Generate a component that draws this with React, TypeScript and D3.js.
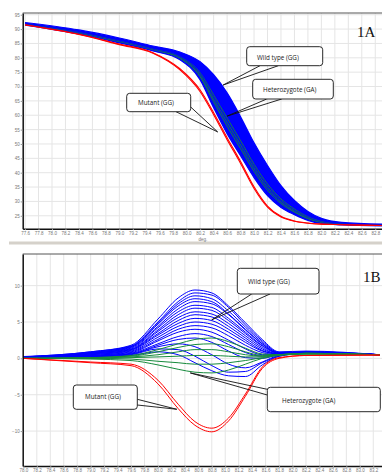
import React, { useEffect, useRef } from 'react';
import * as d3 from 'd3';

// ---------- 1A: melting curves (fluorescence vs deg.) ----------
const tempsA = [77.6, 78.4, 79.0, 79.5, 79.9, 80.2, 80.4, 80.6, 80.8, 81.0, 81.2, 81.4, 81.6, 81.8, 82.0, 82.3, 82.9];
// envelope of the wild type bundle (lowest / highest curve)
const wildLowA = [91.4, 88.3, 85.2, 82.4, 79.3, 72.3, 62.6, 53.6, 45.9, 38.3, 32.0, 27.9, 25.4, 23.4, 22.3, 21.8, 21.5];
const wildHighA = [92.3, 89.7, 86.9, 84.1, 82.0, 78.6, 74.1, 67.8, 59.5, 50.4, 42.5, 35.5, 30.3, 26.5, 24.1, 22.7, 22.1];
const wildMidA = [
  [91.7, 88.8, 85.8, 83.0, 80.2, 74.4, 66.4, 58.3, 50.4, 42.3, 35.5, 30.4, 27.0, 24.4, 22.9, 22.1, 21.7],
  [92.0, 89.2, 86.3, 83.5, 81.1, 76.5, 70.3, 63.1, 55.0, 46.4, 39.0, 33.0, 28.7, 25.5, 23.5, 22.4, 21.9],
];
const hetA = [
  [91.6, 88.6, 85.5, 82.7, 79.8, 73.4, 64.7, 56.2, 48.4, 40.5, 33.9, 29.3, 26.3, 24.0, 22.6, 22.0, 21.6],
  [91.7, 88.7, 85.7, 82.9, 80.1, 74.1, 65.8, 57.6, 49.7, 41.7, 34.9, 30.0, 26.8, 24.3, 22.8, 22.1, 21.7],
  [91.7, 88.8, 85.8, 83.0, 80.3, 74.7, 67.0, 59.0, 51.1, 42.9, 36.0, 30.8, 27.3, 24.6, 23.0, 22.1, 21.7],
];
const mutantA = [
  [91.4, 88.1, 84.6, 81.6, 75.8, 68.2, 60.2, 51.5, 43.2, 34.5, 28.0, 24.6, 23.1, 22.4, 22.1, 21.9, 21.6],
  [91.5, 88.2, 84.8, 81.8, 76.2, 68.8, 60.9, 52.2, 43.9, 35.1, 28.4, 24.8, 23.2, 22.5, 22.1, 21.9, 21.6],
];
const xTicksA = [77.6, 77.8, 78.0, 78.2, 78.4, 78.6, 78.8, 79.0, 79.2, 79.4, 79.6, 79.8, 80.0, 80.2, 80.4, 80.6, 80.8, 81.0, 81.2, 81.4, 81.6, 81.8, 82.0, 82.2, 82.4, 82.6, 82.8];
const yTicksA = [25, 30, 35, 40, 45, 50, 55, 60, 65, 70, 75, 80, 85, 90, 95];

// ---------- 1B: difference / derivative curves ----------
const tempsB = [78.0, 79.0, 79.6, 80.0, 80.3, 80.55, 80.8, 81.05, 81.3, 81.55, 81.8, 82.2, 83.3];
const wildB = [
  [0.25, 0.9, 1.8, 5.4, 8.3, 9.4, 9.0, 7.2, 4.9, 2.6, 0.9, 1.0, 0.5],
  [0.2, 0.9, 1.7, 5.0, 7.8, 9.0, 8.7, 7.0, 4.6, 2.4, 0.8, 0.9, 0.5],
  [0.2, 0.8, 1.6, 4.8, 7.5, 8.6, 8.2, 6.5, 4.3, 2.2, 0.8, 0.9, 0.5],
  [0.2, 0.8, 1.6, 4.7, 7.2, 8.2, 7.8, 6.1, 4.0, 2.0, 0.7, 0.9, 0.5],
  [0.2, 0.7, 1.5, 4.4, 6.8, 7.8, 7.5, 6.0, 3.9, 2.0, 0.7, 0.8, 0.5],
  [0.15, 0.7, 1.4, 4.2, 6.4, 7.3, 7.0, 5.5, 3.6, 1.8, 0.7, 0.8, 0.5],
  [0.15, 0.7, 1.3, 3.9, 6.0, 6.9, 6.6, 5.2, 3.4, 1.7, 0.7, 0.8, 0.5],
  [0.15, 0.6, 1.2, 3.7, 5.6, 6.4, 6.1, 4.8, 3.1, 1.5, 0.6, 0.8, 0.5],
  [0.1, 0.6, 1.2, 3.4, 5.2, 6.0, 5.7, 4.4, 2.8, 1.3, 0.6, 0.8, 0.5],
  [0.1, 0.5, 1.1, 3.2, 4.8, 5.5, 5.2, 4.0, 2.5, 1.1, 0.6, 0.7, 0.5],
  [0.1, 0.5, 1.0, 2.9, 4.4, 5.0, 4.7, 3.6, 2.2, 1.0, 0.6, 0.7, 0.5],
  [0.1, 0.4, 0.9, 2.6, 4.0, 4.5, 4.2, 3.1, 1.8, 0.8, 0.5, 0.7, 0.5],
  [0.05, 0.4, 0.8, 2.4, 3.6, 4.0, 3.6, 2.5, 1.3, 0.5, 0.5, 0.7, 0.5],
  [0.05, 0.3, 0.7, 2.0, 3.0, 3.4, 3.0, 1.9, 0.8, 0.3, 0.5, 0.7, 0.5],
  [0.05, 0.3, 0.6, 1.8, 2.6, 2.8, 2.2, 1.0, 0.1, 0.0, 0.5, 0.7, 0.5],
  [0.05, 0.3, 0.6, 1.6, 2.0, 1.6, 0.5, -0.8, -1.3, -0.5, 0.4, 0.7, 0.5],
  [0.05, 0.2, 0.5, 1.3, 1.2, 0.3, -1.0, -1.9, -1.8, -0.6, 0.3, 0.7, 0.5],
  [0.0, 0.2, 0.4, 0.9, 0.5, -0.6, -1.7, -2.4, -2.5, -0.9, 0.3, 0.7, 0.5],
];
const hetB = [
  [0.0, 0.1, 0.4, 1.2, 2.0, 2.6, 2.8, 2.3, 1.4, 0.6, 0.5, 0.7, 0.5],
  [0.0, 0.1, 0.3, 0.9, 1.5, 1.9, 2.0, 1.6, 0.9, 0.4, 0.5, 0.7, 0.5],
  [0.0, 0.05, 0.2, 0.5, 0.9, 1.2, 1.2, 0.9, 0.5, 0.3, 0.5, 0.7, 0.5],
  [0.0, 0.0, 0.1, 0.2, 0.3, 0.4, 0.4, 0.3, 0.2, 0.2, 0.5, 0.6, 0.5],
  [0.0, 0.0, -0.1, -0.4, -0.6, -0.8, -0.8, -0.6, -0.3, 0.1, 0.5, 0.6, 0.5],
  [0.0, -0.1, -0.3, -0.9, -1.5, -1.9, -2.0, -1.6, -0.8, 0.0, 0.4, 0.6, 0.5],
];
const mutantB = [
  [0.0, -0.5, -0.8, -3.0, -6.3, -8.7, -9.6, -8.2, -4.9, -1.2, 0.1, 0.4, 0.45],
  [0.0, -0.6, -1.0, -3.5, -6.9, -9.2, -10.1, -8.6, -5.2, -1.4, 0.0, 0.4, 0.45],
];
const xTicksB = [78.0, 78.2, 78.4, 78.6, 78.8, 79.0, 79.2, 79.4, 79.6, 79.8, 80.0, 80.2, 80.4, 80.6, 80.8, 81.0, 81.2, 81.4, 81.6, 81.8, 82.0, 82.2, 82.4, 82.6, 82.8, 83.0, 83.2];
const yTicksB = [-10, -5, 0, 5, 10];

// callouts: box in px, tip in data units
const calloutsA = [
  { label: 'Wild type (GG)', box: [246.7, 46.7, 76, 19], text: [257, 59.5], base: [[260, 65.7], [278.3, 65.7]], tip: [80.54, 70.5] },
  { label: 'Heterozygote (GA)', box: [252.7, 79.3, 80.6, 19.7], text: [263, 92], base: [[266.7, 99], [281.7, 99]], tip: [80.6, 59.7] },
  { label: 'Mutant (GG)', box: [126.7, 93.3, 64, 18.4], text: [138, 104.5], base: [[176, 111.7], [190.7, 107]], tip: [80.46, 54.2] },
];
const calloutsB = [
  { label: 'Wild type (GG)', box: [237.3, 268.3, 81.7, 25.7], text: [248, 284], base: [[251.7, 294], [270, 294]], tip: [80.8, 5.3] },
  { label: 'Heterozygote (GA)', box: [267.3, 387.3, 113, 24.4], text: [282, 402.5], base: [[267.3, 389.3], [267.3, 395]], tip: [80.48, -2.0] },
  { label: 'Mutant (GG)', box: [73.3, 385, 64, 24.3], text: [85, 399.3], base: [[137.3, 399.3], [137.3, 405]], tip: [80.28, -7.0] },
];

const W = 382;
const H = 472;
const LEFT = 22.7;
const BLUE = '#0000ff';
const GREEN = '#168a3c';
const RED = '#ff0000';

export default function App() {
  const svgRef = useRef<SVGSVGElement>(null);

  useEffect(() => {
    if (!svgRef.current) return;
    const svg = d3.select(svgRef.current);
    svg.selectAll('*').remove();

    svg.append('rect').attr('width', W).attr('height', H).attr('fill', '#fff');
    svg.append('rect').attr('x', 9).attr('y', 241.5).attr('width', W - 9).attr('height', 3).attr('fill', '#d5d1ca');

    const xA = d3.scaleLinear().domain([77.565, 82.9]).range([LEFT, W]);
    const yA = d3.scaleLinear().domain([20.5, 95.6]).range([228.7, 13]);
    const xB = d3.scaleLinear().domain([77.99, 83.33]).range([LEFT, W]);
    const yB = d3.scaleLinear().domain([-14.8, 14.35]).range([466, 254]);

    const frame = (x: any, y: any, top: number, bottom: number, xt: number[], yt: number[], id: string) => {
      const g = svg.append('g');
      g.append('g').selectAll('line').data(xt).join('line')
        .attr('x1', d => x(d)).attr('x2', d => x(d)).attr('y1', top).attr('y2', bottom)
        .attr('stroke', '#e5e5e5').attr('stroke-width', 1);
      g.append('g').selectAll('line').data(yt).join('line')
        .attr('x1', LEFT).attr('x2', W).attr('y1', d => y(d)).attr('y2', d => y(d))
        .attr('stroke', '#e5e5e5').attr('stroke-width', 1);
      g.append('line').attr('x1', LEFT).attr('x2', W).attr('y1', top).attr('y2', top)
        .attr('stroke', '#555').attr('stroke-width', 1);
      svg.append('clipPath').attr('id', id).append('rect')
        .attr('x', LEFT).attr('y', top).attr('width', W - LEFT).attr('height', bottom - top);
      return svg.append('g').attr('clip-path', `url(#${id})`);
    };

    const axes = (x: any, y: any, bottom: number, xt: number[], yt: number[]) => {
      const ax = svg.append('g').attr('transform', `translate(0,${bottom})`)
        .call(d3.axisBottom(x).tickValues(xt).tickSize(1.5).tickPadding(1.5).tickSizeOuter(0).tickFormat(d3.format('.1f')));
      const ay = svg.append('g').attr('transform', `translate(${LEFT},0)`)
        .call(d3.axisLeft(y).tickValues(yt).tickSize(2).tickPadding(1).tickSizeOuter(0).tickFormat(d3.format('d')));
      [ax, ay].forEach(a => {
        a.select('.domain').attr('stroke', '#111').attr('stroke-width', 1.5);
        a.selectAll('.tick line').attr('stroke', '#999');
        a.selectAll('.tick text').attr('fill', '#777').style('font-size', '4.5px').style('font-family', 'Liberation Sans, sans-serif');
      });
    };

    // ---- 1A ----
    const cA = frame(xA, yA, 13, 228.7, xTicksA, yTicksA, 'clipA');
    const lineA = d3.line<number>().x((_, i) => xA(tempsA[i])).y(d => yA(d)).curve(d3.curveMonotoneX);
    const bandA = d3.area<number>().x((_, i) => xA(tempsA[i])).y0(d => yA(d)).y1((_, i) => yA(wildHighA[i])).curve(d3.curveMonotoneX);
    cA.append('path').datum(wildLowA).attr('d', bandA).attr('fill', BLUE);
    cA.append('path').datum(wildHighA).attr('d', lineA).attr('fill', 'none').attr('stroke', BLUE).attr('stroke-width', 1.2);
    cA.selectAll('.het').data(hetA).join('path').attr('d', d => lineA(d)).attr('fill', 'none').attr('stroke', GREEN).attr('stroke-width', 1);
    cA.selectAll('.wm').data(wildMidA).join('path').attr('d', d => lineA(d)).attr('fill', 'none').attr('stroke', BLUE).attr('stroke-width', 0.8);
    cA.append('path').datum(wildLowA).attr('d', lineA).attr('fill', 'none').attr('stroke', BLUE).attr('stroke-width', 1.2);
    cA.selectAll('.mut').data(mutantA).join('path').attr('d', d => lineA(d)).attr('fill', 'none').attr('stroke', RED).attr('stroke-width', 1.1);
    axes(xA, yA, 228.7, xTicksA, yTicksA);
    svg.append('text').attr('x', 203).attr('y', 241).attr('text-anchor', 'middle')
      .attr('fill', '#777').style('font-size', '4.5px').style('font-family', 'Liberation Sans, sans-serif').text('deg.');

    // ---- 1B ----
    const cB = frame(xB, yB, 254, 466, xTicksB, yTicksB, 'clipB');
    const lineB = d3.line<number>().x((_, i) => xB(tempsB[i])).y(d => yB(d)).curve(d3.curveMonotoneX);
    cB.selectAll('.wb').data(wildB).join('path').attr('d', d => lineB(d)).attr('fill', 'none').attr('stroke', BLUE).attr('stroke-width', 1);
    cB.selectAll('.hb').data(hetB).join('path').attr('d', d => lineB(d)).attr('fill', 'none').attr('stroke', GREEN).attr('stroke-width', 1);
    cB.selectAll('.mb').data(mutantB).join('path').attr('d', d => lineB(d)).attr('fill', 'none').attr('stroke', RED).attr('stroke-width', 1);
    axes(xB, yB, 466, xTicksB, yTicksB);

    // ---- callouts & panel tags ----
    const callouts = (list: any[], x: any, y: any) => {
      list.forEach(c => {
        const tx = x(c.tip[0]);
        const ty = y(c.tip[1]);
        c.base.forEach((b: number[]) => {
          svg.append('line').attr('x1', b[0]).attr('y1', b[1]).attr('x2', tx).attr('y2', ty)
            .attr('stroke', '#111').attr('stroke-width', 0.9);
        });
        svg.append('rect').attr('x', c.box[0]).attr('y', c.box[1]).attr('width', c.box[2]).attr('height', c.box[3])
          .attr('rx', 3).attr('fill', '#fff').attr('stroke', '#111').attr('stroke-width', 0.9);
        svg.append('text').attr('x', c.text[0]).attr('y', c.text[1]).attr('fill', '#1a1a1a')
          .style('font-family', 'Open Sans, sans-serif').style('font-size', '6.3px').text(c.label);
      });
    };
    callouts(calloutsA, xA, yA);
    callouts(calloutsB, xB, yB);

    svg.append('text').attr('x', 357).attr('y', 36.5).style('font-family', 'Liberation Serif, serif').style('font-size', '15px').attr('fill', '#111').text('1A');
    svg.append('text').attr('x', 363).attr('y', 281.7).style('font-family', 'Liberation Serif, serif').style('font-size', '15px').attr('fill', '#111').text('1B');
  }, []);

  return (
    <svg ref={svgRef} width={W} height={H} viewBox={`0 0 ${W} ${H}`}
      style={{ position: 'absolute', left: 0, top: 0, display: 'block' }} />
  );
}
